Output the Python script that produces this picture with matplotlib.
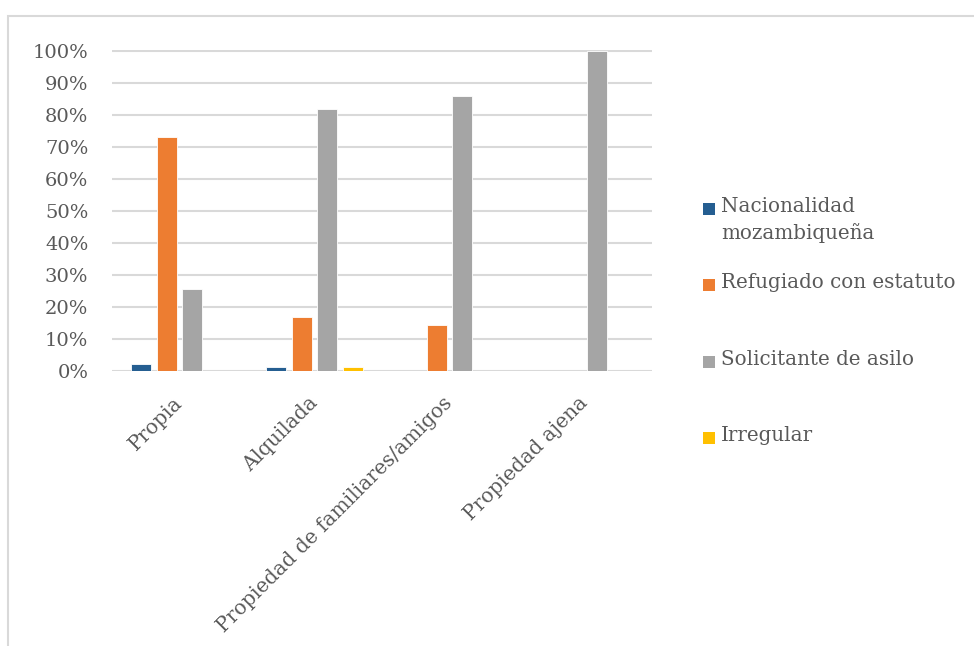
import numpy as np
import matplotlib.pyplot as plt
from matplotlib.patches import Rectangle
from matplotlib.ticker import PercentFormatter

# Tipo de vivienda según situación legal
categories = ["Propia", "Alquilada", "Propiedad de familiares/amigos", "Propiedad ajena"]
series = ["Nacionalidad\nmozambiqueña", "Refugiado con estatuto",
          "Solicitante de asilo", "Irregular"]
nacionalidad = [0.022, 0.012, 0.0, 0.0]
refugiado = [0.73, 0.17, 0.145, 0.0]
solicitante = [0.255, 0.82, 0.86, 1.0]
irregular = [0.0, 0.012, 0.0, 0.0]
values = [nacionalidad, refugiado, solicitante, irregular]
colors = ["#255E91", "#ED7D31", "#A5A5A5", "#FFC000"]

TEXT = "#595959"
GRID = "#D9D9D9"
W, H = 974, 646

plt.rcParams['font.family'] = ['DejaVu Serif']

fig = plt.figure(figsize=(W / 100, H / 100), dpi=100)

# outer chart frame (left and top edges visible)
fig.add_artist(Rectangle((8 / W, -0.05), 1.2, (H - 16) / H + 0.05,
                         transform=fig.transFigure, fill=False,
                         edgecolor=GRID, linewidth=1.5))

ax = fig.add_axes([112 / W, (H - 371) / H, (652 - 112) / W, (371 - 50) / H])

x = np.arange(len(categories))
bar_w = 0.148
step = 0.19
for i, (vals, col) in enumerate(zip(values, colors)):
    ax.bar(x + (i - 1.5) * step, vals, width=bar_w, color=col,
           edgecolor="white", linewidth=0.6, zorder=3)

ax.set_xlim(-0.5, len(categories) - 0.5)
ax.set_ylim(0, 1.003)
ax.set_yticks(np.arange(0, 1.01, 0.1))
ax.yaxis.set_major_formatter(PercentFormatter(1.0, decimals=0))
ax.grid(axis="y", color=GRID, linewidth=1.5, zorder=0)
for s in ax.spines.values():
    s.set_visible(False)
ax.tick_params(axis="y", length=0, pad=17, labelsize=14, labelcolor=TEXT)

ax.set_xticks(x)
ax.set_xticklabels(categories, rotation=45, ha="right", va="center",
                   rotation_mode="anchor", fontsize=14.5, color=TEXT)
ax.tick_params(axis="x", length=0, pad=21)

# legend at the right, entries spread vertically
legend_rows = [209, 285, 362, 438]
for name, col, yrow in zip(series, colors, legend_rows):
    fig.add_artist(Rectangle((703 / W, (H - yrow - 6) / H), 12 / W, 12 / H,
                             transform=fig.transFigure, facecolor=col,
                             edgecolor="none"))
    fig.text(721 / W, (H - yrow + 12) / H, name, ha="left", va="top",
             fontsize=14.3, color=TEXT, linespacing=1.45)

fig.savefig("out.png", dpi=100)
